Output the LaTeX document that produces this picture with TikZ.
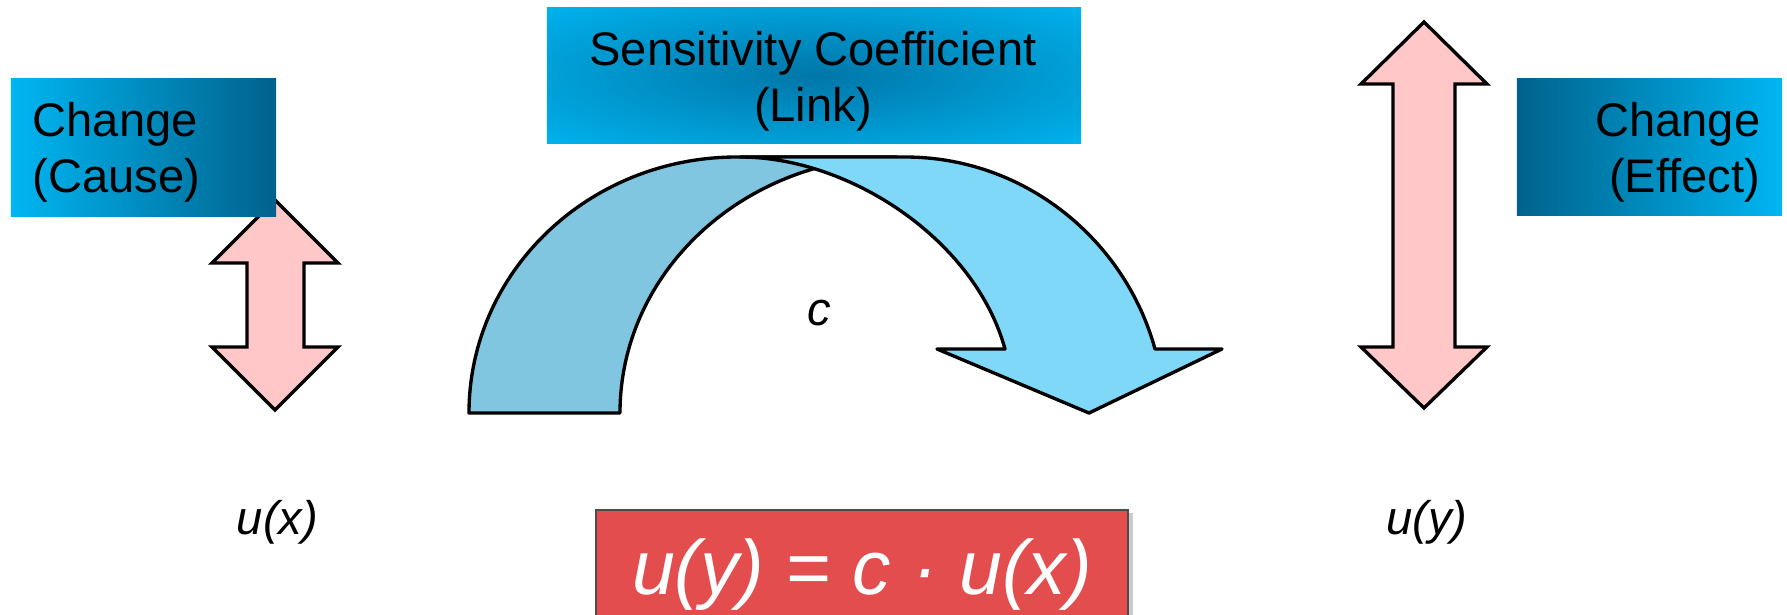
\documentclass[tikz,border=0pt]{standalone}
\usepackage{fontspec}
\setmainfont{Liberation Sans}
\usepackage{xcolor}
\usetikzlibrary{positioning, shadows}
\definecolor{boxlight}{RGB}{0,182,242}
\definecolor{boxdark}{RGB}{0,98,140}
\definecolor{linkdark}{RGB}{0,118,168}
\definecolor{backband}{RGB}{128,198,224}
\definecolor{frontband}{RGB}{128,216,248}
\definecolor{changepink}{RGB}{255,199,199}
\definecolor{formulared}{RGB}{227,77,77}
\pgfdeclareradialshading{linkshade}{\pgfpoint{0bp}{0bp}}{color(0bp)=(linkdark); color(38bp)=(boxlight); color(50bp)=(boxlight)}
\tikzset{
  changebox/.style={rectangle, minimum width=2.65cm, minimum height=1.37cm, inner sep=0pt},
  linkbox/.style={rectangle, minimum width=5.34cm, minimum height=1.35cm, inner sep=0pt,
                  shading=linkshade},
  boxtext/.style={font=\fontsize{13.4pt}{15.9pt}\selectfont, inner sep=0pt},
  maths/.style={font=\fontsize{13.4pt}{15.9pt}\selectfont\itshape, inner sep=0pt},
  formulabox/.style={rectangle, fill=formulared, draw=black!70, line width=0.6pt,
                     minimum width=5.32cm, text height=0.84cm, text depth=0.6cm, inner sep=0pt,
                     text=white, font=\fontsize{21.9pt}{26pt}\selectfont\itshape,
                     drop shadow={shadow xshift=0.05cm, shadow yshift=-0.03cm, opacity=0.4}},
  pinkarrow/.style={draw=black, line width=0.95pt, fill=changepink, line join=miter},
  band/.style={draw=black, line width=0.95pt, line join=round},
}

\begin{document}
\begin{tikzpicture}[x=0.01cm, y=-0.01cm]
  \clip (0,0) rectangle (1787,615);

  %% Cause side
  \draw[pinkarrow] (275,200) -- (338,263) -- (304,263) -- (304,347) -- (338,347) -- (275,410)
        -- (212,347) -- (247,347) -- (247,263) -- (212,263) -- cycle;
  \node[changebox, left color=boxlight, right color=boxdark] (cause) at (143.5,147.5) {};
  \node[boxtext, align=left, anchor=north west] (causetext) at (32,102) {Change\\(Cause)};
  \node[maths, anchor=base] (ux) at (277.5,534) {u(x)};

  %% Link: curved arrow
  \draw[band, fill=backband] (469,413) .. controls (469,271.6) and (589,157) .. (737,157)
        -- (897,157) .. controls (744,157) and (620,271.6) .. (620,413) -- cycle;
  \draw[band, fill=frontband] (740,157) -- (905,157) .. controls (1025,157) and (1125,240) .. (1155,349)
        -- (1222,349) -- (1089,413) -- (937,349) -- (1005,349)
        .. controls (975,240) and (850,157) .. (740,157) -- cycle;
  \node[linkbox] (link) at (814,75.5) {};
  \node[boxtext, align=center, anchor=north] (linktext) at (813,31) {Sensitivity Coefficient\\(Link)};
  \node[maths, anchor=base] (coef) at (819.5,325) {c};

  %% Effect side
  \draw[pinkarrow] (1424,22) -- (1487,84) -- (1455,84) -- (1455,347) -- (1487,347) -- (1424,408)
        -- (1361,347) -- (1393,347) -- (1393,84) -- (1361,84) -- cycle;
  \node[changebox, left color=boxdark, right color=boxlight] (effect) at (1649.5,147) {};
  \node[boxtext, align=right, anchor=north east] (effecttext) at (1761,102) {Change\\(Effect)};
  \node[maths, anchor=base] (uy) at (1427,534) {u(y)};

  %% Formula
  \node[formulabox, anchor=base] (formula) at (862,594) {u(y) = c · u(x)};

\end{tikzpicture}
\end{document}
